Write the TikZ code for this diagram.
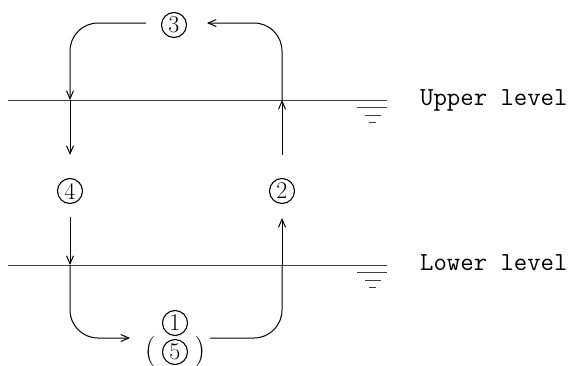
\documentclass[tikz,border=0pt]{standalone}
\usepackage{fontspec}
\usetikzlibrary{arrows.meta, positioning, calc}
\tikzset{
    stage/.style={
        circle,
        draw,
        line width=1.1pt,
        minimum size=25pt,
        inner sep=0pt,
        font=\fontsize{24}{24}\selectfont
    },
    paren/.style={inner sep=0pt, font=\fontsize{31}{31}\selectfont},
    flow/.style={-{Straight Barb[length=8pt, width=7pt]}, line width=1pt},
    pipe/.style={line width=1pt},
    level/.style={line width=0.9pt, black!75},
    levellabel/.style={font=\ttfamily\fontsize{26}{26}\selectfont, inner sep=0pt}
}

\begin{document}
\begin{tikzpicture}[x=1pt, y=-1pt]
\useasboundingbox (0,0) rectangle (576,365);

% water levels
\coordinate (upL) at (8,100);
\coordinate (upR) at (387,100);
\coordinate (loL) at (8,265);
\coordinate (loR) at (387,265);
\draw[level] (upL) -- (upR);
\draw[level] (loL) -- (loR);
\foreach \lv in {upR, loR} {
    \draw[level] ([yshift=-7.5pt]\lv) -- ++(-30,0);
    \draw[level] ([xshift=-6pt, yshift=-15pt]\lv) -- ++(-16,0);
    \draw[level] ([xshift=-11pt, yshift=-22pt]\lv) -- ++(-7,0);
}
\node[levellabel, anchor=base west] (uptext) at (420,105) {Upper level};
\node[levellabel, anchor=base west] (lotext) at (420,270) {Lower level};

% stages
\node[stage] (s3) at (174,25) {3};
\node[stage] (s4) at (70,191) {4};
\node[stage] (s2) at (282,191) {2};
\node[stage] (s1) at (175,323) {1};
\node[stage] (s5) at (175,352) {5};
\node[paren, left=6pt of s5] (lp) {(};
\node[paren, right=6pt of s5] (rp) {)};
\coordinate (bot) at (175,338);

% circuit
\draw[flow, rounded corners=28pt] ([xshift=-28pt]s3.center |- 0,23) -| (s4 |- upL);
\draw[flow, shorten >=23pt] (s4 |- upL) -- (s4);
\draw[flow, shorten <=13pt] (s4) -- (s4 |- loL);
\draw[flow, rounded corners=28pt] (s4 |- loL) |- ([xshift=-45pt]bot);
\draw[pipe, rounded corners=28pt] ([xshift=35pt]bot) -| (s2 |- loL);
\draw[flow, shorten >=14pt] (s2 |- loL) -- (s2);
\draw[flow, shorten <=23pt] (s2) -- (s2 |- upL);
\draw[flow, rounded corners=28pt] (s2 |- upL) |- ([xshift=33pt]s3.center |- 0,23);
\end{tikzpicture}
\end{document}
